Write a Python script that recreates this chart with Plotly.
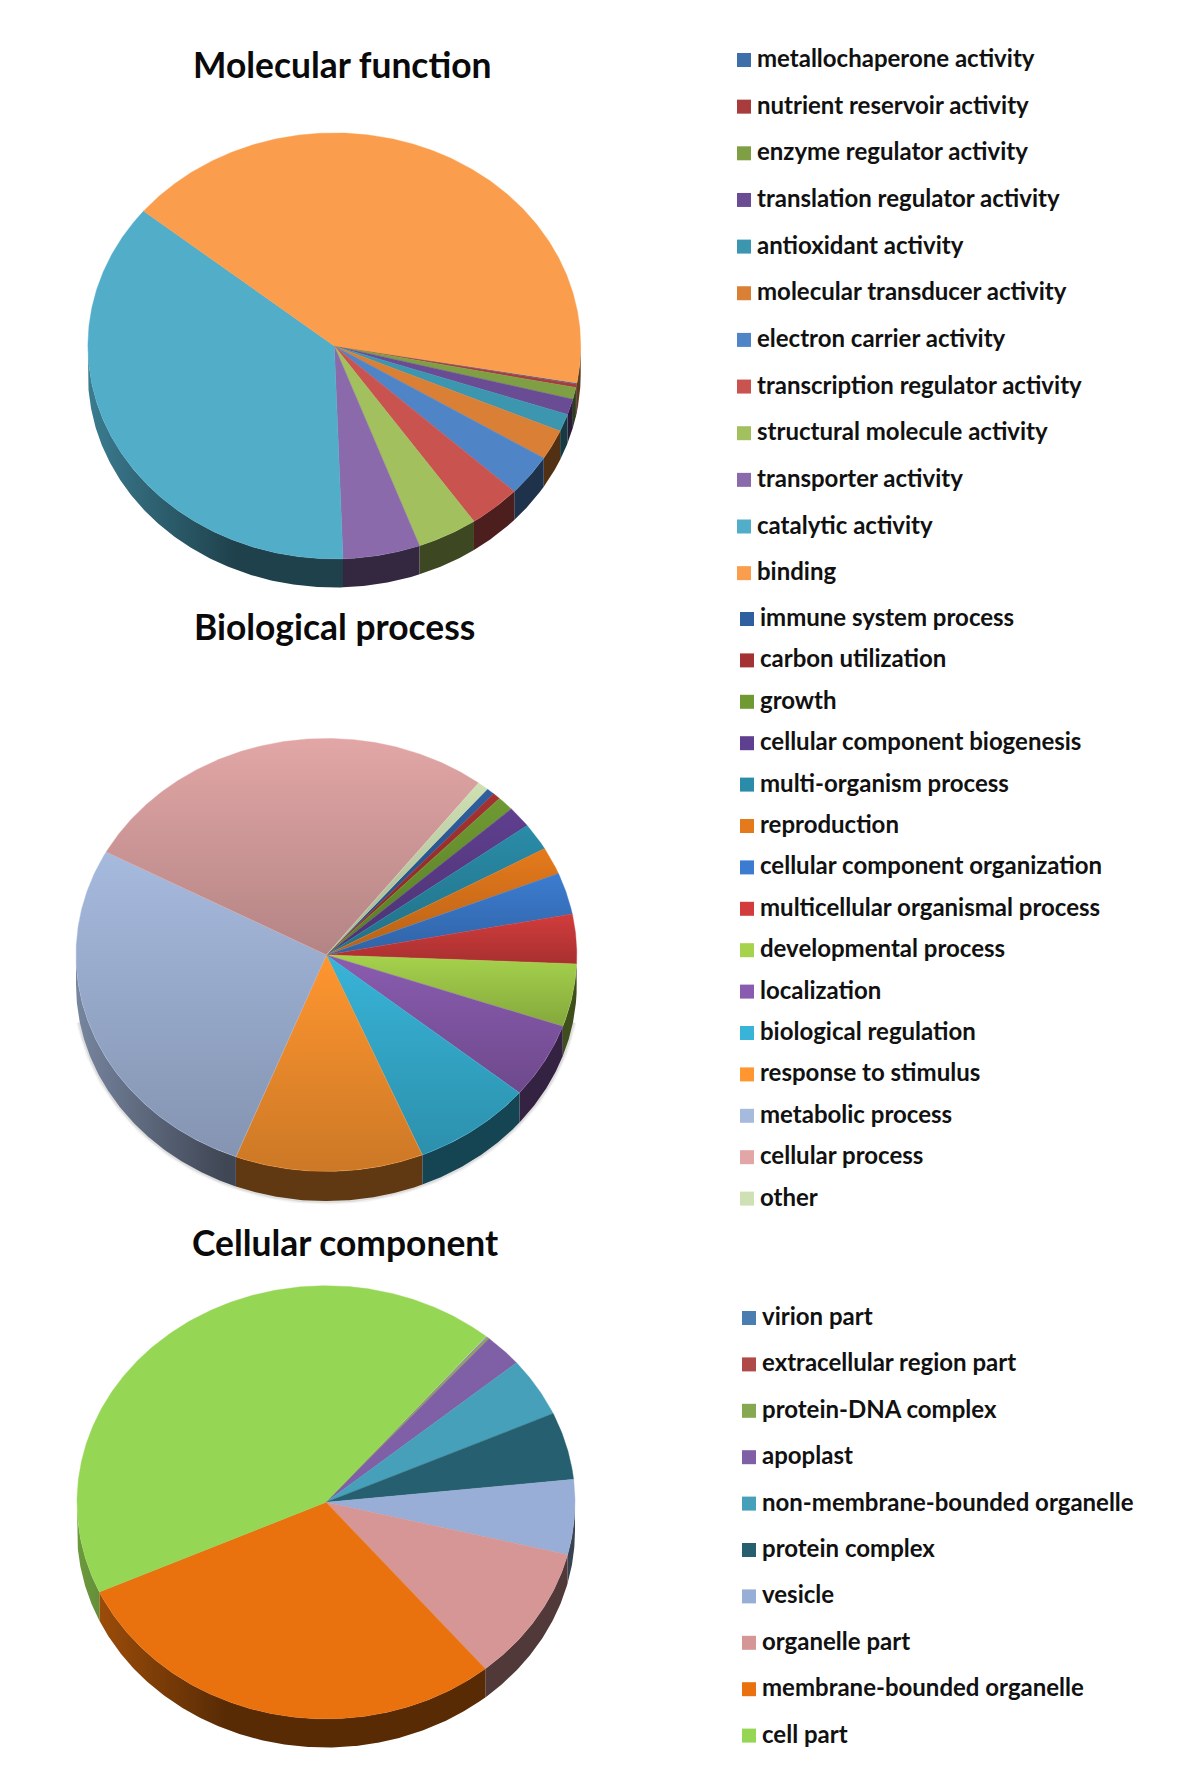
import numpy as np
import plotly.graph_objects as go

# ---- data (percent of each pie) ----
mf_labels = ["metallochaperone activity", "nutrient reservoir activity", "enzyme regulator activity",
             "translation regulator activity", "antioxidant activity", "molecular transducer activity",
             "electron carrier activity", "transcription regulator activity", "structural molecule activity",
             "transporter activity", "catalytic activity", "binding"]
mf_values = [0.11, 0.25, 0.89, 1.19, 1.33, 2.28, 3.14, 3.44, 3.97, 5.06, 36.47, 41.87]
mf_colors = ["#3F6FA8", "#A83C3C", "#7F9F44", "#6A4C94", "#3D96AF", "#D97F36",
             "#4F84C6", "#C9534F", "#A2C05E", "#8B6AAB", "#52ADC9", "#FA9E4E"]

bp_labels = ["immune system process", "carbon utilization", "growth", "cellular component biogenesis",
             "multi-organism process", "reproduction", "cellular component organization",
             "multicellular organismal process", "developmental process", "localization",
             "biological regulation", "response to stimulus", "metabolic process", "cellular process", "other"]
bp_values = [0.53, 0.50, 1.08, 1.58, 2.03, 2.03, 3.11, 3.69, 4.69, 5.64, 7.75, 12.14, 27.0, 27.5, 0.72]
bp_colors = ["#2F5F9E", "#A53232", "#6F9A32", "#5F3F8F", "#2A8CA8", "#E57A1C",
             "#3C7CD0", "#D23C3C", "#A6D24C", "#8A5CB0", "#38B4D8", "#FF9630",
             "#A6BADE", "#E2A6A6", "#CFE0B4"]

cc_labels = ["virion part", "extracellular region part", "protein-DNA complex", "apoplast",
             "non-membrane-bounded organelle", "protein complex", "vesicle", "organelle part",
             "membrane-bounded organelle", "cell part"]
cc_values = [0.06, 0.08, 0.11, 2.5, 4.42, 5.03, 5.58, 10.06, 29.25, 42.9]
cc_colors = ["#4A7EB0", "#B04A48", "#86A850", "#7F5FA5", "#46A0BA", "#265F70",
             "#98AED6", "#D69696", "#E9720F", "#96D655"]

chart_titles = ["Molecular function", "Biological process", "Cellular component"]

# ---- layout constants (page pixels) ----
PIES = [
    dict(cx=334.3, cy=345.9, rx=246.4, ry=213.0, depth=28.6, start=10.0, grad=False, shadow=False),
    dict(cx=326.4, cy=954.9, rx=250.4, ry=216.5, depth=29.7, start=-50.0, grad=True, shadow=True),
    dict(cx=326.0, cy=1502.3, rx=249.0, ry=216.6, depth=28.6, start=-50.0, grad=False, shadow=False),
]
LEGENDS = [dict(sx=744, tx=757, y0=60, dy=46.65),
           dict(sx=747, tx=760, y0=619, dy=41.4),
           dict(sx=749, tx=762, y0=1318, dy=46.4)]
TITLES = [(342, 64), (334, 626), (344.5, 1242)]
TEXT_FONT = "Lato"
TITLE_SIZE = 35.4
LABEL_SIZE = 24


def scale(c, f):
    r, g, b = int(c[1:3], 16), int(c[3:5], 16), int(c[5:7], 16)
    return f"rgb({int(r*f)},{int(g*f)},{int(b*f)})"


fig = go.Figure()


def draw_pie(labels, values, colors, p):
    v = np.asarray(values, float)
    edges = p["start"] + np.concatenate([[0], np.cumsum(v)]) / v.sum() * 360
    cx, cy, rx, ry, d = p["cx"], p["cy"], p["rx"], p["ry"], p["depth"]
    if p["shadow"]:
        t = np.radians(np.linspace(10, 170, 200))
        for w, alpha in ((7, 0.07), (4, 0.12)):
            fig.add_trace(go.Scatter(
                x=cx + rx * np.cos(t), y=cy + ry * np.sin(t) + d, mode="lines",
                line=dict(width=w, color=f"rgba(70,70,70,{alpha})"), hoverinfo="skip", showlegend=False))
    # rim: only the part of each slice facing the viewer
    for k in range(-1, 1):
        for i, (lab, col) in enumerate(zip(labels, colors)):
            a, b = edges[i] + 360 * k, edges[i + 1] + 360 * k
            a, b = max(a, 0), min(b, 180)
            if b <= a:
                continue
            t = np.radians(np.linspace(a, b, max(3, int((b - a) * 2))))
            xs = np.concatenate([cx + rx * np.cos(t), (cx + rx * np.cos(t))[::-1]])
            ys = np.concatenate([cy + ry * np.sin(t), (cy + ry * np.sin(t) + d)[::-1]])
            fig.add_trace(go.Scatter(
                x=xs, y=ys, mode="lines", fill="toself", line=dict(width=0),
                fillcolor=scale(col, 0.38), name=lab, hoverinfo="name", showlegend=False,
                fillgradient=dict(type="horizontal", start=cx - rx, stop=cx - 0.4 * rx,
                                  colorscale=[[0, scale(col, 0.72)], [1, scale(col, 0.38)]])))
    # top face
    for i, (lab, col) in enumerate(zip(labels, colors)):
        a, b = edges[i], edges[i + 1]
        t = np.radians(np.linspace(a, b, max(3, int((b - a) * 2))))
        xs = np.concatenate([[cx], cx + rx * np.cos(t), [cx]])
        ys = np.concatenate([[cy], cy + ry * np.sin(t), [cy]])
        kw = {}
        if p["grad"]:
            kw["fillgradient"] = dict(type="vertical", start=float(ys.min()), stop=float(ys.max()),
                                      colorscale=[[0, scale(col, 1.0)], [1, scale(col, 0.8)]])
        fig.add_trace(go.Scatter(
            x=xs, y=ys, mode="lines", fill="toself", line=dict(width=0.4, color=col),
            fillcolor=col, name=lab, hoverinfo="name", showlegend=False, **kw))


def draw_legend(labels, colors, l):
    ys = [l["y0"] + l["dy"] * i for i in range(len(labels))]
    fig.add_trace(go.Scatter(
        x=[l["sx"]] * len(labels), y=ys, mode="markers",
        marker=dict(symbol="square", size=14, color=colors, line=dict(width=0)),
        hoverinfo="skip", showlegend=False))
    fig.add_trace(go.Scatter(
        x=[l["tx"]] * len(labels), y=[y + 1 for y in ys], mode="text", text=labels,
        textposition="middle right",
        textfont=dict(family=TEXT_FONT, size=LABEL_SIZE, color="#111111", weight=700),
        hoverinfo="text", showlegend=False))


groups = [(mf_labels, mf_values, mf_colors), (bp_labels, bp_values, bp_colors), (cc_labels, cc_values, cc_colors)]
for (labs, vals, cols), p, l in zip(groups, PIES, LEGENDS):
    draw_pie(labs, vals, cols, p)
    draw_legend(labs, cols, l)

annots = [dict(x=x, y=y, xref="x", yref="y", text=t, showarrow=False, xanchor="center", yanchor="middle",
               font=dict(family=TEXT_FONT, size=TITLE_SIZE, color="#0A0A0A", weight=700))
          for t, (x, y) in zip(chart_titles, TITLES)]

fig.update_layout(
    width=1200, height=1789, margin=dict(l=0, r=0, t=0, b=0),
    paper_bgcolor="white", plot_bgcolor="white", showlegend=False, annotations=annots,
    xaxis=dict(range=[0, 1200], visible=False, fixedrange=True),
    yaxis=dict(range=[1789, 0], visible=False, fixedrange=True),
)
fig.write_html("out.html", config=dict(displayModeBar=False),
               post_script="document.body.style.margin='0';")
